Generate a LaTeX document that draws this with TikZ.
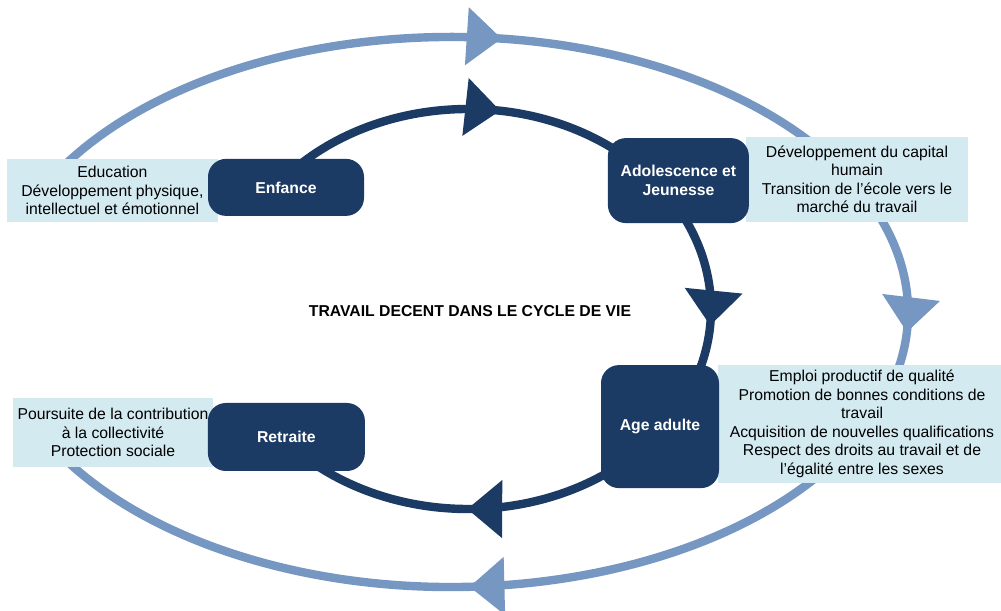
\documentclass[tikz,border=0pt]{standalone}
\usepackage{fontspec}
\setmainfont{Liberation Sans}
\usepackage{tikz}
\usetikzlibrary{arrows.meta}
\usetikzlibrary{decorations.markings}
\definecolor{innercyc}{HTML}{1B3A64}
\definecolor{outercyc}{HTML}{7597C2}
\definecolor{infobg}{HTML}{D3EAF0}
\definecolor{stagebg}{HTML}{1B3A64}

\begin{document}
\begin{tikzpicture}[
  font=\fontsize{11.2}{13.2}\selectfont,
  >={Triangle[length=8.75mm,width=14mm]},
  cyc/.style n args={4}{
    draw=#1,
    line width=2.1mm,
    decoration={markings,
      mark=at position #2 with {\arrow{>}},
      mark=at position #3 with {\arrow{>}},
      mark=at position #4 with {\arrow{>}}},
    postaction={decorate}},
  stage/.style 2 args={
    rectangle,
    rounded corners=4.5mm,
    fill=stagebg,
    text=white,
    font=\fontsize{11.2}{13.2}\selectfont\bfseries,
    align=center,
    minimum width=#1,
    minimum height=#2},
  info/.style 2 args={
    rectangle,
    fill=infobg,
    align=center,
    inner sep=0pt,
    minimum width=#1,
    minimum height=#2},
]

  \useasboundingbox (0,0) rectangle (25.025,15.275);

  \def\outrx{11.425}%
  \def\outry{6.875}%
  \def\inrx{6.075}%
  \def\inry{5}%

    % Outer cycle
  \coordinate (outc) at (11.275, 7.475);
  \path (outc) ++(150:\outrx cm and \outry cm) coordinate (outstart);
  \draw[cyc={outercyc}{0.237}{0.510}{0.779}] (outstart)
    arc[start angle=150, end angle=-150, x radius=\outrx, y radius=\outry];

    % Inner cycle
  \coordinate (inc) at (11.7, 7.55);
  \path (inc) ++(140:\inrx cm and \inry cm) coordinate (instart);
  \draw[cyc={innercyc}{0.214}{0.515}{0.816}] (instart)
    arc[start angle=140, end angle=-140, x radius=\inrx, y radius=\inry];

    % Stage descriptions
  \node[info={5.275cm}{1.575cm}] (infoenf) at (2.81, 10.51)
    {Education\\Développement physique,\\intellectuel et émotionnel};
  \node[info={5.55cm}{2.125cm}] (infoado) at (21.425, 10.79)
    {Développement du capital\\humain\\Transition de l’école vers le\\marché du travail};
  \node[info={7.2cm}{2.95cm}] (infoadu) at (21.55, 4.675)
    {Emploi productif de qualité\\Promotion de bonnes conditions de\\travail\\Acquisition de nouvelles qualifications\\Respect des droits au travail et de\\l’égalité entre les sexes};
  \node[info={5cm}{1.725cm}] (inforet) at (2.825, 4.4625)
    {Poursuite de la contribution\\à la collectivité\\Protection sociale};

    % Life stages
  \node[stage={3.9cm}{1.425cm}] (enf) at (7.15, 10.59) {Enfance};
  \node[stage={3.525cm}{2.125cm}] (ado) at (16.96, 10.76) {Adolescence et\\Jeunesse};
  \node[stage={2.95cm}{3.075cm}] (adu) at (16.5, 4.61) {Age adulte};
  \node[stage={3.925cm}{1.7cm}] (ret) at (7.16, 4.35) {Retraite};

  \node[font=\fontsize{11.2}{13.2}\selectfont\bfseries] (titre) at (11.75, 7.5)
    {TRAVAIL DECENT DANS LE CYCLE DE VIE};

\end{tikzpicture}
\end{document}
